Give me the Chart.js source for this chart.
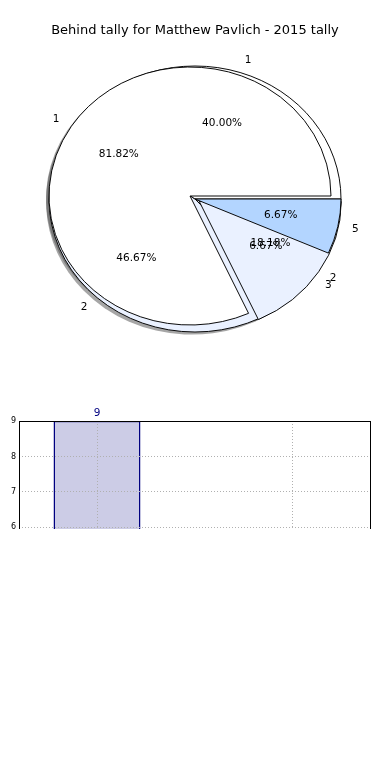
<!DOCTYPE html>
<html>
<head>
<meta charset="utf-8">
<script src="https://cdn.jsdelivr.net/npm/chart.js@4.4.0/dist/chart.umd.min.js"></script>
<style>
  html, body { margin: 0; padding: 0; background: #fff; }
  #page { position: relative; width: 390px; height: 780px; overflow: hidden; }
  #title { position: absolute; top: 22px; left: 0; width: 390px; text-align: center;
           font: 13px "DejaVu Sans"; line-height: 16px; color: #000; }
  .layer { position: absolute; left: 0; top: 0; }
  #barClip { position: absolute; left: 0; top: 400px; width: 390px; height: 129px; overflow: hidden; }
</style>
</head>
<body>
<div id="page">
  <canvas id="tallyPie" class="layer" width="390" height="400"></canvas>
  <canvas id="behindPie" class="layer" width="390" height="400"></canvas>
  <div id="title"></div>
  <div id="barClip"><canvas id="barChart" width="390" height="348"></canvas></div>
</div>
<script>
const chartTitle = "Behind tally for Matthew Pavlich - 2015 tally";

// pie drawn on top: 9 of 11 and 2 of 11
const behindLabels = ["1", "2"];
const behindValues = [9, 2];

// pie drawn underneath
const tallyLabels = ["1", "2", "3", "5"];
const tallyValues = [6, 7, 1, 1];

// bar chart (only the top of it shows)
const barPositions = [0, 1];
const barValues = [9, 2];
const yMin = 0;
const yMax = 9;

// styles
const behindColors = ["#ffffff", "#eaf1ff"];
const behindExplode = [0, 11];
const tallyColors = ["#ffffff", "#eaf1ff", "#eaf1ff", "#b3d5ff"];
const tallyExplode = [0, 0, 0, 0];
const tallyOnTop = [false, false, false, true];
const TALLY_SY = 133 / 146;
const BEHIND_SY = 129 / 141;

Chart.defaults.font.family = "DejaVu Sans";
Chart.defaults.color = "#000";

document.getElementById("title").textContent = chartTitle;

let charts = {};

function wedge(arc) {
    const p = arc.getProps(["x", "y", "startAngle", "endAngle", "outerRadius"], true);
    const mid = (p.startAngle + p.endAngle) / 2;
    const shift = (arc.options.offset || 0) / 4;
    return {
        x: p.x + Math.cos(mid) * shift,
        y: p.y + Math.sin(mid) * shift,
        cy: p.y, r: p.outerRadius,
        start: p.startAngle, end: p.endAngle, mid: mid
    };
}

function squash(ctx, cy, sy) {
    ctx.translate(0, cy);
    ctx.scale(1, sy);
    ctx.translate(0, -cy);
}

function drawShadows(ctx, chart, sy) {
    if (!chart) return;
    chart.getDatasetMeta(0).data.forEach(function (arc) {
        const w = wedge(arc);
        ctx.save();
        ctx.translate(-3, 2.6);
        squash(ctx, w.cy, sy);
        ctx.beginPath();
        ctx.moveTo(w.x, w.y);
        ctx.arc(w.x, w.y, w.r, w.start, w.end);
        ctx.closePath();
        ctx.fillStyle = "rgba(77,77,77,0.5)";
        ctx.fill();
        ctx.restore();
    });
}

// slices of the lower pie that show above the upper one
function drawRaised(ctx, chart, sy) {
    if (!chart) return;
    const data = chart.getDatasetMeta(0).data;
    const n = data.length;
    data.forEach(function (arc, i) {
        if (!tallyOnTop[n - 1 - i]) return;
        ctx.save();
        squash(ctx, arc.y, sy);
        arc.draw(ctx);
        ctx.restore();
    });
}

function drawTexts(ctx, chart, labels, values, sy) {
    if (!chart) return;
    const total = values.reduce((a, b) => a + b, 0);
    const n = labels.length;
    ctx.save();
    ctx.fillStyle = "#000";
    ctx.font = '10.5px "DejaVu Sans"';
    ctx.textBaseline = "middle";
    chart.getDatasetMeta(0).data.forEach(function (arc, i) {
        const k = n - 1 - i;
        const w = wedge(arc);
        const at = d => [w.x + Math.cos(w.mid) * w.r * d,
                         w.cy + (w.y - w.cy + Math.sin(w.mid) * w.r * d) * sy];
        let [x, y] = at(1.1);
        ctx.textAlign = Math.cos(w.mid) > 0 ? "left" : "right";
        ctx.fillText(labels[k], x, y);
        [x, y] = at(0.6);
        ctx.textAlign = "center";
        ctx.fillText((values[k] / total * 100).toFixed(2) + "%", x, y);
    });
    ctx.restore();
}

function ellipsePlugin(sy, before, after) {
    return {
        id: "ellipse",
        beforeDatasetsDraw(chart) {
            const ctx = chart.ctx;
            if (before) before(chart, ctx);
            ctx.save();
            squash(ctx, chart.getDatasetMeta(0).data[0].y, sy);
        },
        afterDatasetsDraw(chart) {
            chart.ctx.restore();
            if (after) after(chart, chart.ctx);
        }
    };
}

function pieConfig(labels, values, colors, explode, radius, padding, plugin) {
    const rev = a => a.slice().reverse();
    return {
        type: "pie",
        data: {
            labels: rev(labels),
            datasets: [{
                data: rev(values),
                backgroundColor: rev(colors),
                borderColor: "#000",
                borderWidth: 1,
                offset: rev(explode).map(v => v * 4),
                radius: radius,
                rotation: 90,
                clip: false
            }]
        },
        options: {
            responsive: false,
            animation: false,
            events: [],
            radius: radius,
            rotation: 90,
            layout: { padding: padding },
            plugins: { legend: { display: false }, tooltip: { enabled: false } }
        },
        plugins: [plugin]
    };
}

charts.tally = new Chart(document.getElementById("tallyPie"),
    pieConfig(tallyLabels, tallyValues, tallyColors, tallyExplode, 146,
        { left: 0, right: 0, top: 0, bottom: 2 },
        ellipsePlugin(TALLY_SY, function (chart, ctx) {
            drawShadows(ctx, chart, TALLY_SY);
            drawShadows(ctx, charts.behind, BEHIND_SY);
        })));

charts.behind = new Chart(document.getElementById("behindPie"),
    pieConfig(behindLabels, behindValues, behindColors, behindExplode, 141,
        { left: 0, right: 10, top: 0, bottom: 8 },
        ellipsePlugin(BEHIND_SY, null, function (chart, ctx) {
            drawRaised(ctx, charts.tally, TALLY_SY);
            drawTexts(ctx, charts.tally, tallyLabels, tallyValues, TALLY_SY);
            drawTexts(ctx, chart, behindLabels, behindValues, BEHIND_SY);
        })));

charts.tally.draw();
charts.behind.draw();

const framePlugin = {
    id: "frame",
    afterDraw(chart) {
        const ctx = chart.ctx;
        const a = chart.chartArea;
        ctx.save();
        ctx.strokeStyle = "#000";
        ctx.lineWidth = 1;
        ctx.strokeRect(Math.round(a.left) + 0.5, Math.round(a.top) + 0.5,
                       Math.round(a.right - a.left), Math.round(a.bottom - a.top));
        ctx.fillStyle = "#000080";
        ctx.font = '10.5px "DejaVu Sans"';
        ctx.textAlign = "center";
        chart.getDatasetMeta(0).data.forEach(function (bar, i) {
            ctx.fillText(String(barValues[i]), bar.x, bar.y - 5);
        });
        ctx.restore();
    }
};

charts.bar = new Chart(document.getElementById("barChart"), {
    type: "bar",
    data: {
        datasets: [{
            data: barPositions.map((x, i) => ({ x: x, y: barValues[i] })),
            backgroundColor: "#cccce6",
            borderColor: "#000080",
            borderWidth: 1.5,
            barPercentage: 0.446,
            categoryPercentage: 1
        }]
    },
    options: {
        responsive: false,
        animation: false,
        events: [],
        layout: { padding: { left: 0, right: 20, top: 21, bottom: 3 } },
        plugins: { legend: { display: false }, tooltip: { enabled: false } },
        scales: {
            x: {
                type: "linear", min: -0.4, max: 1.4, offset: false,
                afterBuildTicks: s => { s.ticks = barPositions.map(v => ({ value: v })); },
                ticks: { display: false },
                grid: { color: "#b0b0b0", drawTicks: false, offset: false, z: 1 },
                border: { display: false, dash: [1, 2] }
            },
            y: {
                min: yMin, max: yMax,
                ticks: { stepSize: 1, font: { size: 8 }, padding: 3, color: "#000" },
                grid: { color: "#b0b0b0", drawTicks: false, z: 1 },
                border: { display: false, dash: [1, 2] },
                afterFit: s => { s.width = 19; }
            }
        }
    },
    plugins: [framePlugin]
});
</script>
</body>
</html>
